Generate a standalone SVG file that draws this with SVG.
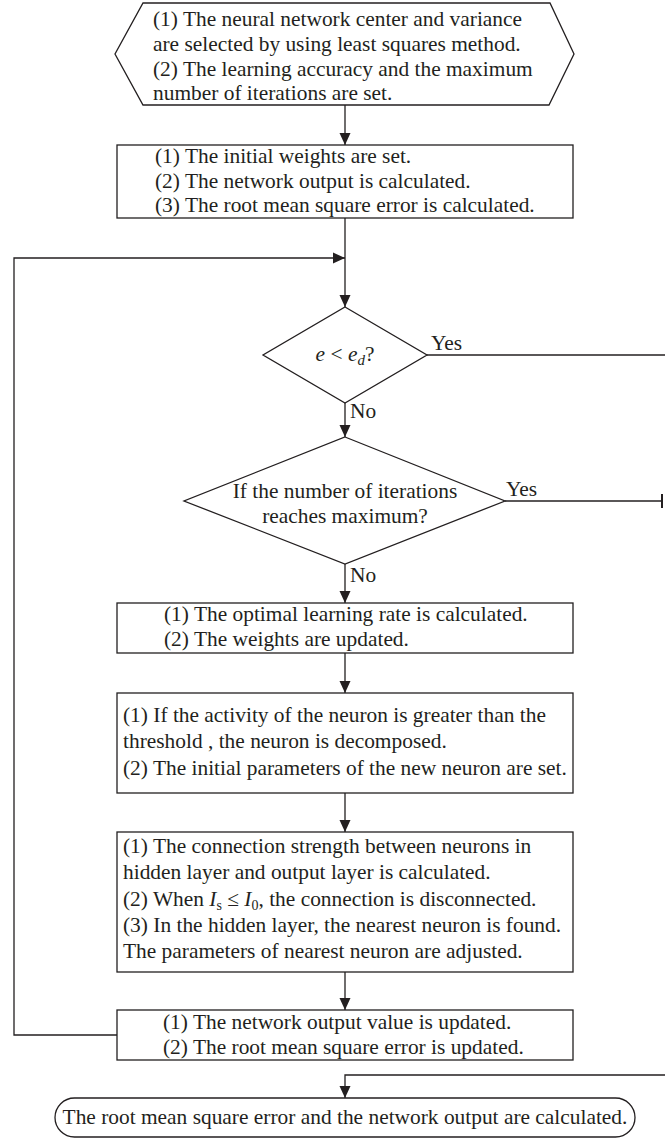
<svg xmlns="http://www.w3.org/2000/svg" width="665" height="1139" viewBox="0 0 665 1139">
<style>
.n{fill:#fff;stroke:#231f20;stroke-width:1.3}
.t{font-family:"Liberation Serif","Times New Roman",serif;font-size:21.4px;fill:#231f20}
.c{fill:none;stroke:#231f20;stroke-width:1.3}
.i{font-style:italic}
</style>
<defs>
<marker id="ah" markerWidth="12" markerHeight="12" viewBox="0 0 12 12" refX="12" refY="6" orient="auto" markerUnits="userSpaceOnUse">
<path d="M0,0.5 L12,6 L0,11.5 Z" fill="#231f20"/>
</marker>
</defs>
<rect width="665" height="1139" fill="#fff"/>
<g id="connectors">
<line class="c" x1="345" y1="105" x2="345" y2="145" marker-end="url(#ah)"/>
<line class="c" x1="345" y1="218" x2="345" y2="307" marker-end="url(#ah)"/>
<polyline class="c" points="117,1035 14,1035 14,258 345,258" marker-end="url(#ah)"/>
<line class="c" x1="427" y1="355" x2="665" y2="355"/>
<line class="c" x1="345" y1="403" x2="345" y2="437" marker-end="url(#ah)"/>
<line class="c" x1="505" y1="501" x2="662" y2="501"/>
<line x1="662" y1="494" x2="662" y2="508" stroke="#231f20" stroke-width="2"/>
<line class="c" x1="345" y1="564" x2="345" y2="603" marker-end="url(#ah)"/>
<line class="c" x1="345" y1="653" x2="345" y2="693" marker-end="url(#ah)"/>
<line class="c" x1="345" y1="793" x2="345" y2="832" marker-end="url(#ah)"/>
<line class="c" x1="345" y1="972" x2="345" y2="1010" marker-end="url(#ah)"/>
<polyline class="c" points="665,1075 345,1075 345,1098" marker-end="url(#ah)"/>
<text class="t" x="431" y="350">Yes</text>
<text class="t" x="350" y="418">No</text>
<text class="t" x="506" y="496">Yes</text>
<text class="t" x="350" y="582">No</text>
</g>
<g id="start">
<polygon class="n" points="143,3 550,3 574,54 549,105 143,105 115,54"/>
<text class="t" x="153" y="26">(1) The neural network center and variance</text>
<text class="t" x="153" y="51">are selected by using least squares method.</text>
<text class="t" x="153" y="76">(2) The learning accuracy and the maximum</text>
<text class="t" x="153" y="100">number of iterations are set.</text>
</g>
<g id="init">
<rect class="n" x="117" y="145" width="456" height="73"/>
<text class="t" x="155" y="163">(1) The initial weights are set.</text>
<text class="t" x="155" y="188">(2) The network output is calculated.</text>
<text class="t" x="155" y="212">(3) The root mean square error is calculated.</text>
</g>
<g id="check-error">
<polygon class="n" points="345,307 427,355 345,403 263,355"/>
<text class="t" x="345" y="361" text-anchor="middle"><tspan class="i">e</tspan> &lt; <tspan class="i">e</tspan><tspan class="i" font-size="15" dy="4">d</tspan><tspan dy="-4">?</tspan></text>
</g>
<g id="check-iter">
<polygon class="n" points="345,437 505,501 345,564 184,501"/>
<text class="t" x="345" y="498" text-anchor="middle">If the number of iterations</text>
<text class="t" x="345" y="523" text-anchor="middle">reaches maximum?</text>
</g>
<g id="update-weights">
<rect class="n" x="117" y="603" width="456" height="50"/>
<text class="t" x="164" y="621">(1) The optimal learning rate is calculated.</text>
<text class="t" x="164" y="646">(2) The weights are updated.</text>
</g>
<g id="decompose">
<rect class="n" x="117" y="693" width="456" height="100"/>
<text class="t" x="123" y="722">(1) If the activity of the neuron is greater than the</text>
<text class="t" x="123" y="748">threshold , the neuron is decomposed.</text>
<text class="t" x="123" y="775">(2) The initial parameters of the new neuron are set.</text>
</g>
<g id="connection">
<rect class="n" x="117" y="832" width="456" height="140"/>
<text class="t" x="123" y="853">(1) The connection strength between neurons in</text>
<text class="t" x="123" y="879">hidden layer and output layer is calculated.</text>
<text class="t" x="123" y="906">(2) When <tspan class="i">I</tspan><tspan font-size="14" dy="4">s</tspan><tspan dy="-4"> ≤ </tspan><tspan class="i">I</tspan><tspan font-size="14" dy="4">0</tspan><tspan dy="-4">, the connection is disconnected.</tspan></text>
<text class="t" x="123" y="932">(3) In the hidden layer, the nearest neuron is found.</text>
<text class="t" x="123" y="958">The parameters of nearest neuron are adjusted.</text>
</g>
<g id="update-output">
<rect class="n" x="117" y="1010" width="456" height="50"/>
<text class="t" x="163" y="1029">(1) The network output value is updated.</text>
<text class="t" x="163" y="1054">(2) The root mean square error is updated.</text>
</g>
<g id="end">
<rect class="n" x="55" y="1098" width="580" height="39" rx="19.5" ry="19.5"/>
<text class="t" x="345" y="1124" text-anchor="middle">The root mean square error and the network output are calculated.</text>
</g>
</svg>
